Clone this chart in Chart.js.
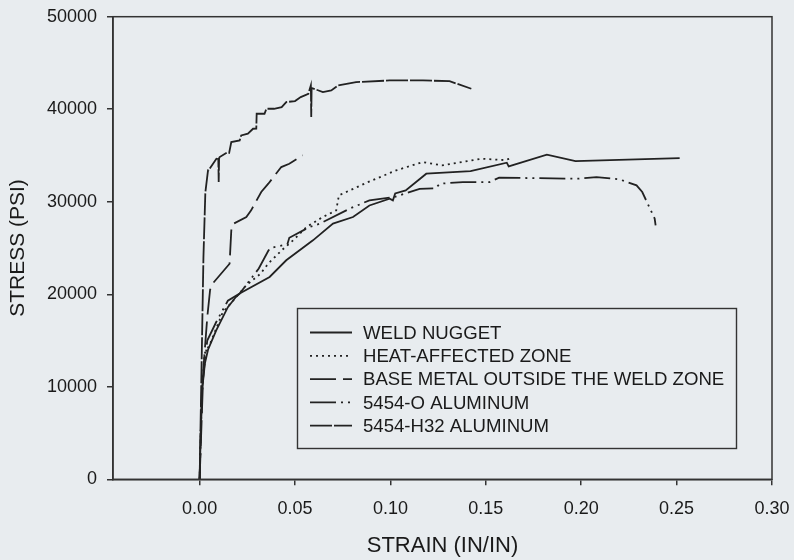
<!DOCTYPE html>
<html>
<head>
<meta charset="utf-8">
<script src="https://cdn.jsdelivr.net/npm/chart.js@4.4.1/dist/chart.umd.min.js"></script>
<style>
  html, body { margin: 0; padding: 0; background: #e8ecef; }
  #wrap { width: 794px; height: 560px; }
</style>
</head>
<body>
<div id="wrap"><canvas id="stressChart" width="794" height="560"></canvas></div>
<script>
// tick values
const xTicks = [0, 0.05, 0.10, 0.15, 0.20, 0.25, 0.30];
const yTicks = [0, 10000, 20000, 30000, 40000, 50000];

// weld nugget
const weldStrain = [0, 0.0006, 0.0012, 0.0025, 0.0044, 0.0087, 0.0148, 0.019, 0.021, 0.0367, 0.0454, 0.0594, 0.0699, 0.0804, 0.089, 0.0996, 0.1013, 0.1025, 0.108, 0.1188, 0.142, 0.161, 0.162, 0.182, 0.197, 0.2516];
const weldStress = [0, 5000, 9600, 12300, 14000, 16100, 18600, 19700, 20080, 21870, 23670, 25830, 27630, 28350, 29600, 30330, 30150, 30900, 31230, 33030, 33320, 34220, 33820, 35090, 34400, 34720];

// heat-affected zone
const hazStrain = [0, 0.0006, 0.0013, 0.0026, 0.0052, 0.012, 0.0245, 0.032, 0.036, 0.043, 0.049, 0.056, 0.0646, 0.0716, 0.073, 0.088, 0.103, 0.117, 0.127, 0.148, 0.16, 0.1625];
const hazStress = [0, 5000, 9600, 13600, 14500, 18000, 20980, 22240, 23320, 24750, 25830, 27270, 28350, 29070, 30690, 32100, 33390, 34290, 33930, 34650, 34500, 34650];

// base metal outside the weld zone
const baseStrain = [0, 0.001, 0.002, 0.004, 0.0055, 0.007, 0.0157, 0.0166, 0.0175, 0.0245, 0.027, 0.0323, 0.036, 0.0428, 0.047, 0.054];
const baseStress = [0, 6000, 12000, 17500, 20500, 21200, 23300, 26900, 27600, 28350, 29070, 31050, 31950, 33750, 34110, 35010];

// 5454-O aluminum
const alOStrain = [0, 0.0006, 0.0013, 0.004, 0.0087, 0.0148, 0.021, 0.031, 0.036, 0.037, 0.046, 0.047, 0.0576, 0.063, 0.0786, 0.089, 0.102, 0.1153, 0.1235, 0.126, 0.138, 0.152, 0.157, 0.199, 0.208, 0.22, 0.229, 0.232, 0.2385, 0.239];
const alOStress = [0, 5000, 9600, 15000, 17000, 19300, 20080, 22780, 24700, 25000, 25400, 26100, 27270, 27630, 29250, 30150, 30500, 31400, 31450, 31950, 32130, 32130, 32600, 32490, 32670, 32420, 31770, 31050, 28180, 27450];

// 5454-H32 aluminum
const alHStrain = [0, 0.001, 0.002, 0.003, 0.0044, 0.0047, 0.0088, 0.0098, 0.0100, 0.0102, 0.0105, 0.0148, 0.0155, 0.0166, 0.021, 0.0218, 0.0253, 0.028, 0.0297, 0.0299, 0.034, 0.035, 0.039, 0.043, 0.0454, 0.050, 0.053, 0.057, 0.0583, 0.0585, 0.0587, 0.0646, 0.069, 0.0725, 0.082, 0.0996, 0.117, 0.131, 0.1424];
const alHStress = [0, 12000, 24000, 31000, 33400, 33390, 34650, 34600, 32130, 34700, 34830, 35370, 35300, 36450, 36630, 37170, 37350, 37890, 37900, 39510, 39510, 40050, 40050, 40230, 40770, 40880, 41310, 41670, 42570, 39150, 42300, 41850, 42030, 42570, 42930, 43110, 43110, 43030, 42210];

const seriesNames = ['WELD NUGGET', 'HEAT-AFFECTED ZONE', 'BASE METAL OUTSIDE THE WELD ZONE', '5454-O ALUMINUM', '5454-H32 ALUMINUM'];

function pts(xs, ys) { return xs.map((x, i) => ({ x: x, y: ys[i] })); }

const ink = '#222';
const fontFam = '"Liberation Sans", Arial, Helvetica, sans-serif';

function line(label, data, dash) {
  return {
    label: label, data: data, showLine: true, borderColor: ink, borderWidth: 1.8,
    borderDash: dash, pointRadius: 0, tension: 0, fill: false
  };
}

// box round the plot and legend drawn inside it
const boxPlugin = {
  id: 'boxPlugin',
  afterDraw(chart) {
    const ctx = chart.ctx, a = chart.chartArea;
    ctx.save();
    ctx.strokeStyle = '#333';
    ctx.lineWidth = 1.5;
    ctx.setLineDash([]);
    ctx.strokeRect(a.left, a.top, a.right - a.left, a.bottom - a.top);

    // legend
    const lx = 297.5, ly = 308.5, lw = 439, lh = 140;
    ctx.lineWidth = 1.4;
    ctx.strokeRect(lx, ly, lw, lh);
    ctx.font = '18.6px ' + fontFam;
    ctx.fillStyle = '#1a1a1a';
    ctx.textBaseline = 'middle';
    chart.data.datasets.forEach((ds, i) => {
      const y = 332.5 + i * 23.3;
      ctx.beginPath();
      ctx.setLineDash(ds.borderDash || []);
      ctx.lineWidth = ds.borderWidth;
      ctx.strokeStyle = ds.borderColor;
      ctx.moveTo(310, y);
      ctx.lineTo(352, y);
      ctx.stroke();
      ctx.setLineDash([]);
      ctx.fillText(ds.label, 363, y + 1);
    });
    ctx.restore();
  }
};

new Chart(document.getElementById('stressChart'), {
  type: 'scatter',
  data: {
    datasets: [
      line(seriesNames[0], pts(weldStrain, weldStress), []),
      line(seriesNames[1], pts(hazStrain, hazStress), [2, 4]),
      line(seriesNames[2], pts(baseStrain, baseStress), [26, 7]),
      line(seriesNames[3], pts(alOStrain, alOStress), [26, 5, 2, 5, 2, 5]),
      line(seriesNames[4], pts(alHStrain, alHStress), [22, 2])
    ]
  },
  options: {
    responsive: false,
    animation: false,
    layout: { padding: { top: 16.7, right: 22, left: 0, bottom: 0 } },
    plugins: { legend: { display: false }, tooltip: { enabled: false } },
    scales: {
      x: {
        type: 'linear', min: -0.0454, max: 0.30,
        afterFit(s) { s.height = 80.7; s.paddingLeft = 0; s.paddingRight = 0; },
        afterBuildTicks(s) { s.ticks = xTicks.map(v => ({ value: v })); },
        border: { display: true, color: '#333', width: 1.5 },
        grid: { drawOnChartArea: false, drawTicks: true, tickLength: 6, color: '#333', lineWidth: 1.5 },
        ticks: { padding: 13, color: '#1a1a1a', font: { family: fontFam, size: 18 }, maxRotation: 0,
                 callback: v => v.toFixed(2) },
        title: { display: true, text: 'STRAIN (IN/IN)', color: '#1a1a1a',
                 font: { family: fontFam, size: 22 }, padding: { top: 4, bottom: 1 } }
      },
      y: {
        type: 'linear', min: 0, max: 50000,
        afterFit(s) { s.width = 113; s.paddingTop = 0; s.paddingBottom = 0; },
        afterBuildTicks(s) { s.ticks = yTicks.map(v => ({ value: v })); },
        border: { display: true, color: '#333', width: 1.5 },
        grid: { drawOnChartArea: false, drawTicks: true, tickLength: 6, color: '#333', lineWidth: 1.5 },
        ticks: { padding: 10, color: '#1a1a1a', font: { family: fontFam, size: 18 },
                 callback: v => String(v) },
        title: { display: true, text: 'STRESS (PSI)', color: '#1a1a1a',
                 font: { family: fontFam, size: 21 }, padding: { top: 6, bottom: 0 } }
      }
    }
  },
  plugins: [boxPlugin]
});
</script>
</body>
</html>
